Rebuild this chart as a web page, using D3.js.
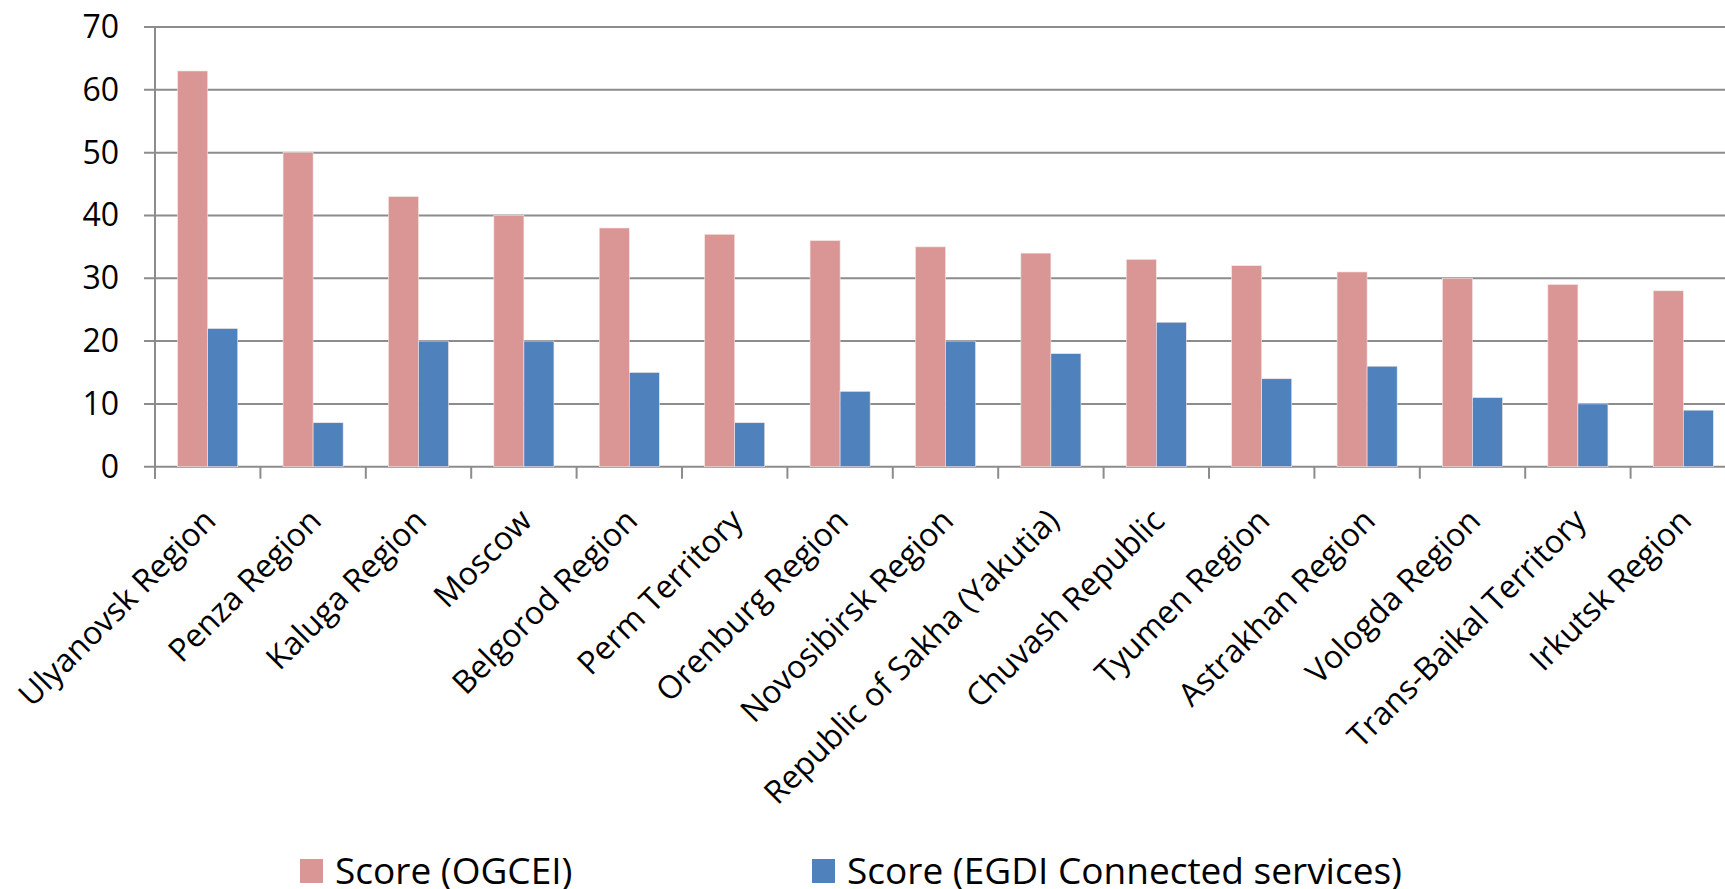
<!DOCTYPE html>
<html>
<head>
<meta charset="utf-8">
<script src="https://cdn.jsdelivr.net/npm/d3@7"></script>
<style>
  html, body { margin: 0; padding: 0; background: #fff; overflow: hidden; }
  svg { display: block; font-family: "Open Sans", sans-serif; }
</style>
</head>
<body>
<svg id="chart" width="1725" height="889"></svg>
<script>
"use strict";

const regions = ['Ulyanovsk Region', 'Penza Region', 'Kaluga Region', 'Moscow', 'Belgorod Region',
  'Perm Territory', 'Orenburg Region', 'Novosibirsk Region', 'Republic of Sakha (Yakutia)',
  'Chuvash Republic', 'Tyumen Region', 'Astrakhan Region', 'Vologda Region',
  'Trans-Baikal Territory', 'Irkutsk Region'];
const ogceiScores = [63, 50, 43, 40, 38, 37, 36, 35, 34, 33, 32, 31, 30, 29, 28];
const egdiScores = [22, 7, 20, 20, 15, 7, 12, 20, 18, 23, 14, 16, 11, 10, 9];
const yTicks = [0, 10, 20, 30, 40, 50, 60, 70];
const seriesNames = ['Score (OGCEI)', 'Score (EGDI Connected services)'];
const seriesColors = ['#d99694', '#4f81bd'];

const plot = { left: 155, right: 1736, top: 27, bottom: 466.7 }
const GRID = '#8c8c8c'

const svg = d3.select('#chart');

let x = d3.scaleBand()
    .domain(regions)
    .range([plot.left, plot.right])
    .paddingInner(0.43)
    .paddingOuter(0.215);
let xSeries = d3.scaleBand()
    .domain([0, 1])
    .range([0, x.bandwidth()]);
let y = d3.scaleLinear()
    .domain([0, 70])
    .range([plot.bottom, plot.top]);

// gridlines + y labels
svg.append('g')
    .selectAll('line')
    .data(yTicks)
    .join('line')
        .attr('x1', plot.left - 11)
        .attr('x2', plot.right)
        .attr('y1', d => y(d))
        .attr('y2', d => y(d))
        .attr('stroke', GRID)
        .attr('stroke-width', 2);

svg.append('g')
    .selectAll('text')
    .data(yTicks)
    .join('text')
        .attr('x', 119)
        .attr('y', d => y(d) + 11)
        .attr('text-anchor', 'end')
        .attr('font-size', 32)
        .attr('fill', '#000')
        .text(d => d);

// bars
let rows = regions.map((r, i) => ({ region: r, values: [ogceiScores[i], egdiScores[i]] }));
svg.append('g')
    .selectAll('g')
    .data(rows)
    .join('g')
        .attr('transform', d => `translate(${x(d.region)},0)`)
    .selectAll('rect')
    .data(d => d.values.map((v, k) => ({ k: k, v: v })))
    .join('rect')
        .attr('x', d => xSeries(d.k))
        .attr('y', d => y(d.v))
        .attr('width', xSeries.bandwidth())
        .attr('height', d => y(0) - y(d.v))
        .attr('fill', d => seriesColors[d.k])
        .attr('stroke', '#f4e6e6')
        .attr('stroke-width', 0.6);

// axes lines
svg.append('line')
    .attr('x1', plot.left).attr('x2', plot.left)
    .attr('y1', plot.top).attr('y2', plot.bottom + 12)
    .attr('stroke', GRID).attr('stroke-width', 2);

let step = x.step();
svg.append('g')
    .selectAll('line')
    .data(d3.range(regions.length + 1))
    .join('line')
        .attr('x1', i => plot.left + i * step)
        .attr('x2', i => plot.left + i * step)
        .attr('y1', plot.bottom)
        .attr('y2', plot.bottom + 12)
        .attr('stroke', GRID).attr('stroke-width', 2);

// category labels, rotated
svg.append('g')
    .selectAll('text')
    .data(regions)
    .join('text')
        .attr('transform', d => `translate(${x(d) + x.bandwidth() / 2 + 10},${plot.bottom + 56}) rotate(-45)`)
        .attr('text-anchor', 'end')
        .attr('font-size', 32)
        .attr('fill', '#000')
        .text(d => d);

// legend
const legendX = [300, 812];
let legend = svg.append('g')
    .selectAll('g')
    .data(seriesNames)
    .join('g')
        .attr('transform', (d, i) => `translate(${legendX[i]},859)`);
legend.append('rect')
    .attr('width', 23).attr('height', 24)
    .attr('fill', (d, i) => seriesColors[i]);
legend.append('text')
    .attr('x', 35)
    .attr('y', 25)
    .attr('font-size', 37)
    .attr('fill', '#000')
    .text(d => d);
</script>
</body>
</html>
